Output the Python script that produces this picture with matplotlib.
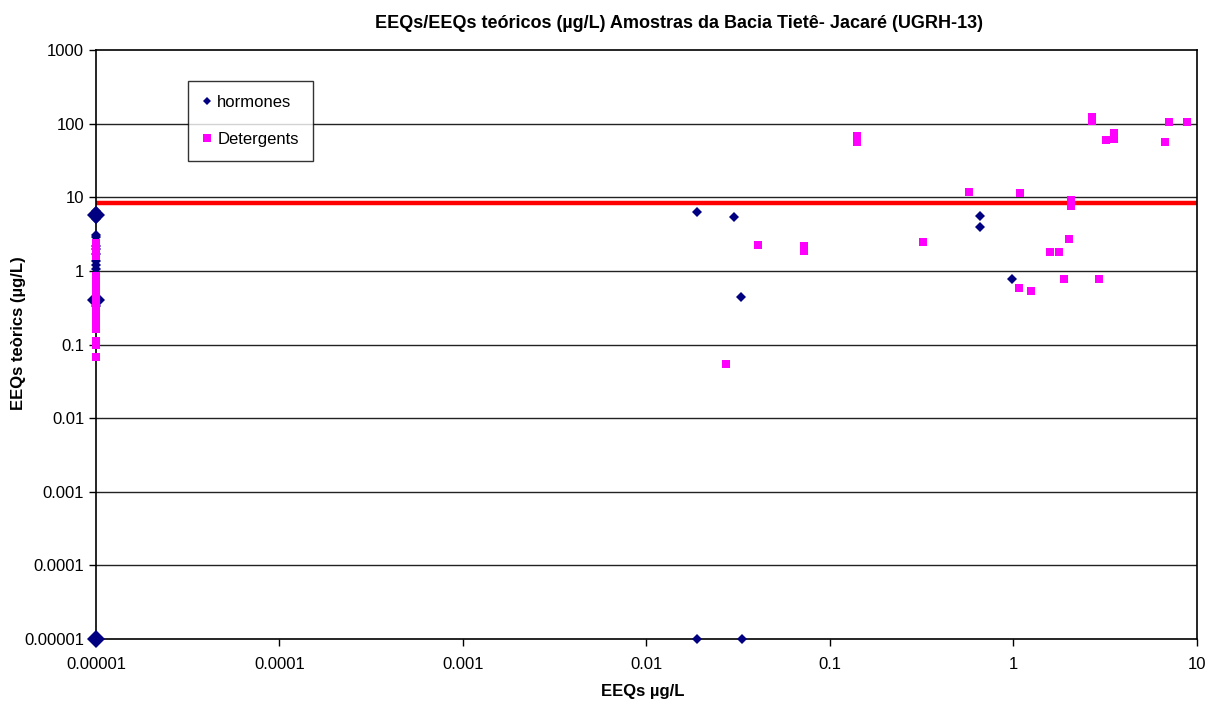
import numpy as np
import matplotlib
matplotlib.use("Agg")
import matplotlib.pyplot as plt
from matplotlib.ticker import FixedLocator, FuncFormatter, NullLocator

plt.rcParams['font.family'] = ['Liberation Sans', 'DejaVu Sans']

# hormones (EEQs, EEQs teoricos)
horm_x = [0.00001, 0.00001, 0.00001, 0.00001, 0.00001, 0.00001, 0.00001,
          0.00001, 0.00001, 0.00001, 0.00001, 0.00001,
          0.0188, 0.030, 0.0327, 0.0188, 0.033,
          0.656, 0.656, 0.98]
horm_y = [6.6, 5.0, 3.1, 2.9, 2.2, 2.0, 1.7, 1.35, 1.2, 1.05, 0.38, 0.33,
          6.3, 5.4, 0.44, 0.00001, 0.00001,
          5.56, 3.94, 0.77]
# overlapping hormone points drawn as larger diamonds
horm_big_x = [0.00001, 0.00001, 0.00001]
horm_big_y = [5.8, 0.40, 0.00001]

# detergents
det_x = [0.00001] * 20 + [
    0.0271, 0.0407, 0.0725, 0.0725, 0.14, 0.14,
    0.322, 0.574, 1.08, 1.07, 1.24, 1.59, 1.78, 1.89, 2.01, 2.07, 2.07,
    2.92, 2.68, 2.68, 3.18, 3.54, 3.54, 6.71, 7.06, 8.8]
det_y = [2.4, 2.1, 1.8, 1.6, 0.85, 0.75, 0.65, 0.57, 0.5, 0.44, 0.37,
         0.32, 0.28, 0.25, 0.22, 0.19, 0.16, 0.11, 0.10, 0.068] + [
    0.054, 2.22, 2.17, 1.88, 68, 57,
    2.48, 11.9, 11.3, 0.58, 0.54, 1.8, 1.8, 0.77, 2.68, 9.2, 7.6,
    0.77, 124, 110, 59, 75, 61, 56.8, 105, 105]

limit = 8.3
x_ticks = [1e-5, 1e-4, 1e-3, 1e-2, 1e-1, 1, 10]
y_ticks = [1e-5, 1e-4, 1e-3, 1e-2, 1e-1, 1, 10, 100, 1000]

fig = plt.figure(figsize=(12.09, 7.01), dpi=100)
ax = fig.add_axes([0.0794, 0.0884, 0.9106, 0.8403])
ax.set_xscale('log')
ax.set_yscale('log')
ax.set_xlim(1e-5, 10)
ax.set_ylim(1e-5, 1000)

for v in y_ticks[1:-1]:
    ax.axhline(v, color='#222222', lw=1.0, zorder=1)
ax.axhline(limit, color='#ff0000', lw=3.2, zorder=2)

ax.plot(horm_x, horm_y, 'D', color='#000080', ms=4.8, mew=0,
        label='hormones', clip_on=False, zorder=3)
ax.plot(horm_big_x, horm_big_y, 'D', color='#000080', ms=9, mew=0,
        clip_on=False, zorder=3)
ax.plot(det_x, det_y, 's', color='#ff00ff', ms=6, mew=0,
        label='Detergents', clip_on=False, zorder=4)

fmt = FuncFormatter(lambda v, _: ('%.5f' % v).rstrip('0').rstrip('.'))
ax.xaxis.set_major_locator(FixedLocator(x_ticks))
ax.yaxis.set_major_locator(FixedLocator(y_ticks))
ax.xaxis.set_minor_locator(NullLocator())
ax.yaxis.set_minor_locator(NullLocator())
ax.xaxis.set_major_formatter(fmt)
ax.yaxis.set_major_formatter(fmt)
ax.tick_params(axis='both', direction='out', length=5, width=1,
               labelsize=12, color='black')
ax.tick_params(axis='x', pad=8)

for s in ax.spines.values():
    s.set_color('black')
    s.set_linewidth(1.2)

ax.set_title(u'EEQs/EEQs teóricos (µg/L) Amostras da Bacia Tietê- Jacaré (UGRH-13)',
             fontsize=13, fontweight='bold', pad=16, x=0.53)
fig.text(0.532, 0.014, u'EEQs µg/L', fontsize=12, fontweight='bold',
         ha='center', va='center')
fig.text(0.015, 0.525, u'EEQs teòrics (µg/L)', fontsize=12, fontweight='bold',
         ha='center', va='center', rotation=90)

leg = ax.legend(loc='upper left', bbox_to_anchor=(0.0836, 0.948),
                frameon=True, fancybox=False, fontsize=12,
                handlelength=0.6, handletextpad=0.3, borderpad=0.85,
                labelspacing=1.35, markerscale=0.9, borderaxespad=0)
leg.get_frame().set_edgecolor('black')
leg.get_frame().set_linewidth(1.0)

fig.savefig('out.png', dpi=100)
